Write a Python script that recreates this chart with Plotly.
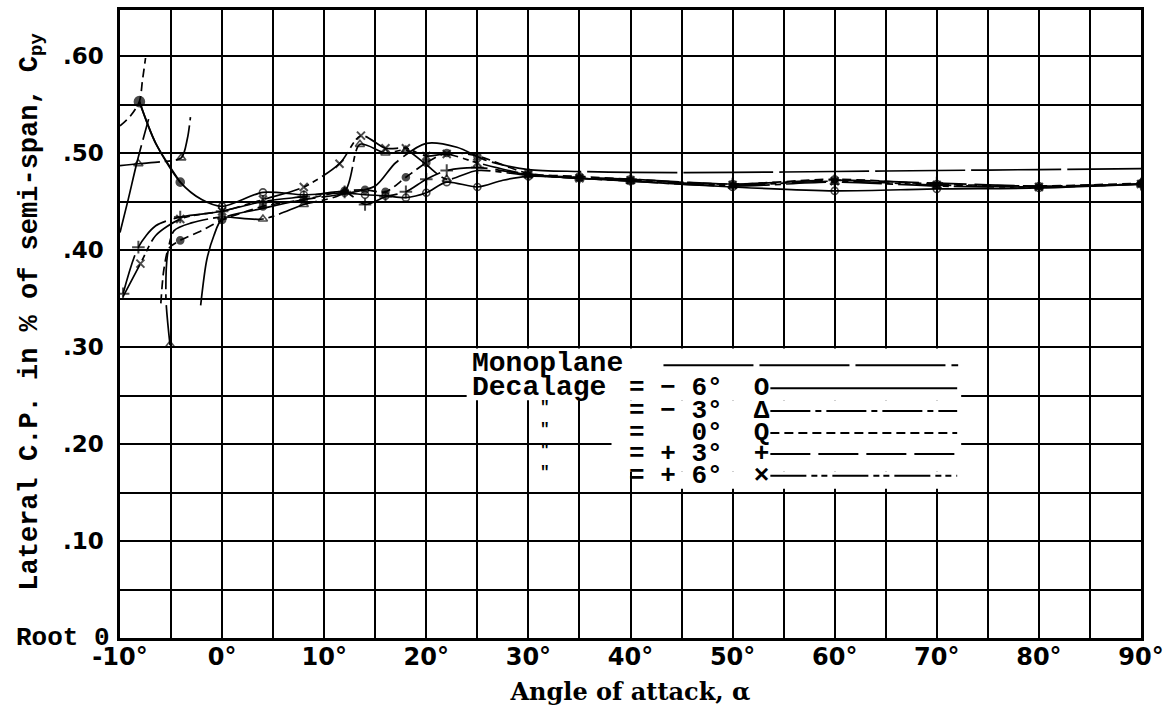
import plotly.graph_objects as go

W, H = 1171, 711
ML, MR, MT, MB = 120, 29, 7, 73

# ---------------- data ----------------
# Monoplane (long dash, no markers), two branches
mono_l_a = [-10, -9.2, -8.3, -7.2]
mono_l_c = [0.418, 0.452, 0.492, 0.535]
mono_r_a = [-2.1, -1.5, -0.8, 0, 4, 8, 12, 15, 17, 20, 23, 26, 30, 35, 40, 50, 60, 70, 80, 90]
mono_r_c = [0.343, 0.39, 0.415, 0.432, 0.443, 0.452, 0.458, 0.466, 0.49, 0.51, 0.506, 0.492,
            0.483, 0.481, 0.480, 0.480, 0.481, 0.482, 0.483, 0.484]

# Decalage -6 deg (open circles, solid)
m6_a = [-8.1, -6.5, -4.1, -2, 0, 4, 8, 12, 14, 16, 18, 20, 22, 25, 27.5, 30, 35, 40, 50, 60, 70, 80, 90]
m6_c = [0.553, 0.51, 0.47, 0.452, 0.445, 0.4595, 0.457, 0.459, 0.457, 0.456, 0.454, 0.459, 0.47,
        0.465, 0.472, 0.476, 0.474, 0.471, 0.465, 0.461, 0.463, 0.464, 0.468]
m6_mk = [0, 4, 8, 12, 14, 16, 18, 20, 22, 25, 30, 35, 40, 50, 60, 70, 80, 90]

# Decalage -3 deg (triangles, dash-dot), two branches
m3_l_a = [-10, -8.2, -6, -4, -3.4, -3.1]
m3_l_c = [0.487, 0.489, 0.491, 0.495, 0.515, 0.537]
m3_l_mk = [-8.2, -4]
m3_r_a = [-5.1, -5.5, -5.35, -4.7, -3, 0, 4, 8, 12, 13.5, 16, 18, 20, 22, 25, 30, 35, 40, 50, 60, 70, 80, 90]
m3_r_c = [0.302, 0.35, 0.395, 0.42, 0.428, 0.434, 0.432, 0.447, 0.46, 0.509, 0.50, 0.503, 0.488,
          0.473, 0.482, 0.477, 0.474, 0.471, 0.466, 0.47, 0.466, 0.465, 0.468]
m3_r_mk = [-5.1, 0, 4, 8, 12, 13.5, 16, 18, 22, 30, 35, 40, 50, 60, 70, 80, 90]

# Decalage 0 deg (filled dots, short dash), two branches
z0_l_a = [-10, -9, -8.1, -7.8, -7.5]
z0_l_c = [0.528, 0.538, 0.553, 0.575, 0.598]
z0_l_mk = [-8.1]
z0_r_a = [-6.0, -5.7, -5.2, -4.1, -2, 0, 4, 8, 12, 14, 16, 18, 20, 22, 25, 30, 35, 40, 50, 60, 70, 80, 90]
z0_r_c = [0.345, 0.38, 0.402, 0.41, 0.42, 0.431, 0.445, 0.452, 0.461, 0.462, 0.46, 0.475, 0.49,
          0.50, 0.497, 0.479, 0.476, 0.473, 0.468, 0.473, 0.468, 0.466, 0.469]
z0_r_mk = [-4.1, 0, 4, 8, 12, 14, 16, 18, 20, 22, 25, 30, 35, 40, 50, 60, 70, 80, 90]
# extra 0-deg test point on the descending faired curve
z0_d_a = [-8.1, -6.5, -4.1]
z0_d_c = [0.553, 0.51, 0.47]
z0_d_mk = [-4.1]

# Decalage +3 deg (plus, long dash)
p3_a = [-9.7, -8.2, -6.5, -4.1, -2, 0, 4, 8, 12, 14, 16, 18, 20, 22, 25, 30, 35, 40, 50, 60, 70, 80, 90]
p3_c = [0.355, 0.403, 0.425, 0.434, 0.437, 0.44, 0.45, 0.455, 0.46, 0.447, 0.455, 0.46, 0.473,
        0.482, 0.485, 0.478, 0.475, 0.473, 0.468, 0.472, 0.469, 0.466, 0.468]
p3_mk = [-9.7, -8.2, -4.1, 0, 4, 8, 12, 14, 16, 18, 20, 22, 25, 30, 35, 40, 50, 60, 70, 80, 90]

# Decalage +6 deg (cross, long-short dash)
p6_a = [-9.7, -8.0, -6.5, -4.1, -2, 0, 4, 8, 11.5, 13.6, 16, 18, 20, 22, 25, 30, 35, 40, 50, 60, 70, 80, 90]
p6_c = [0.352, 0.386, 0.415, 0.432, 0.437, 0.44, 0.452, 0.465, 0.489, 0.518, 0.505, 0.505, 0.497,
        0.499, 0.49, 0.478, 0.474, 0.472, 0.467, 0.471, 0.467, 0.465, 0.468]
p6_mk = [-8.0, -4.1, 0, 4, 8, 11.5, 13.6, 16, 18, 20, 22, 25, 30, 35, 40, 50, 60, 70, 80, 90]

x_ticks = [-10, 0, 10, 20, 30, 40, 50, 60, 70, 80, 90]
x_ticktext = ["-10°", "0°", "10°", "20°", "30°", "40°", "50°", "60°", "70°", "80°", "90°"]
y_ticks = [0.1, 0.2, 0.3, 0.4, 0.5, 0.6]
y_ticktext = [".10", ".20", ".30", ".40", ".50", ".60"]

legend_labels = ["= − 6°", "= − 3°", "=   0°", "= + 3°", "= + 6°"]
legend_symbols = ["O", "Δ", "Q", "+", "×"]

# ---------------- styles ----------------
DASH_MONO = "90px,6px"
DASH_M3 = "40px,5px,6px,5px"
DASH_Z0 = "9px,5px"
DASH_P3 = "40px,8px"
DASH_P6 = "36px,5px,6px,4px,6px,5px"

fig = go.Figure()


def add_curve(a, c, marked, dash, symbol, size=8, lw=1.7, mlw=1.6):
    sizes = [size if v in marked else 0 for v in a]
    mlws = [mlw if v in marked else 0 for v in a]
    fig.add_trace(go.Scatter(
        x=a, y=c, mode="lines+markers", showlegend=False, hoverinfo="skip",
        line=dict(color="black", width=lw, dash=dash, shape="spline", smoothing=0.8),
        marker=dict(symbol=symbol, size=sizes, color="black",
                    line=dict(color="black", width=mlws)),
    ))


add_curve(mono_l_a, mono_l_c, [], DASH_MONO, "circle")
add_curve(mono_r_a, mono_r_c, [], DASH_MONO, "circle")
add_curve(m6_a, m6_c, m6_mk, "solid", "circle-open", size=7)
add_curve(m3_l_a, m3_l_c, m3_l_mk, DASH_M3, "triangle-up-open")
add_curve(m3_r_a, m3_r_c, m3_r_mk, DASH_M3, "triangle-up-open")
add_curve(z0_l_a, z0_l_c, z0_l_mk, DASH_Z0, "circle", size=10)
add_curve(z0_d_a, z0_d_c, z0_d_mk, "solid", "circle", size=8)
add_curve(z0_r_a, z0_r_c, z0_r_mk, DASH_Z0, "circle", size=7)
add_curve(p3_a, p3_c, p3_mk, DASH_P3, "cross-thin", size=9, mlw=2)
add_curve(p6_a, p6_c, p6_mk, DASH_P6, "x-thin", size=8, mlw=2)

PW = W - ML - MR
PH = H - MT - MB


def px(xp):
    return (xp - ML) / PW


def py(yp):
    return (H - MB - yp) / PH


MONO = "Liberation Mono"
shapes = []
annos = []

# white legend area
for (x0, y0, x1, y1) in [(467, 347, 962, 399), (612, 399, 962, 471), (634, 471, 962, 488)]:
    shapes.append(dict(type="rect", xref="paper", yref="paper", x0=px(x0), x1=px(x1),
                       y0=py(y1), y1=py(y0), fillcolor="white", line=dict(width=0), layer="above"))

# legend texts
for txt, yy in [("Monoplane", 362), ("Decalage", 386)]:
    annos.append(dict(text=txt, x=px(470), y=py(yy), xref="paper", yref="paper",
                      xanchor="left", yanchor="middle", showarrow=False,
                      font=dict(family=MONO, size=28, color="black", weight="bold")))
shapes.append(dict(type="line", xref="paper", yref="paper", x0=px(664), x1=px(959),
                   y0=py(364), y1=py(364), line=dict(color="black", width=2, dash=DASH_MONO),
                   layer="above"))

row_y = [387, 410, 432, 453, 475]
row_dash = ["solid", DASH_M3, DASH_Z0, DASH_P3, DASH_P6]
for i, (lab, sym, yy, dsh) in enumerate(zip(legend_labels, legend_symbols, row_y, row_dash)):
    annos.append(dict(text=lab + "  " + sym, x=px(627), y=py(yy), xref="paper", yref="paper",
                      xanchor="left", yanchor="middle", showarrow=False,
                      font=dict(family=MONO, size=26, color="black", weight="bold")))
    shapes.append(dict(type="line", xref="paper", yref="paper", x0=px(771), x1=px(958),
                       y0=py(yy), y1=py(yy), line=dict(color="black", width=2, dash=dsh),
                       layer="above"))
    if i > 0:
        annos.append(dict(text='"', x=px(545), y=py(yy - 3), xref="paper", yref="paper",
                          xanchor="center", yanchor="middle", showarrow=False,
                          font=dict(family=MONO, size=16, color="black", weight="bold")))

# axis label annotations
annos.append(dict(text="Root 0", x=px(112), y=0, xref="paper", yref="paper",
                  xanchor="right", yanchor="middle", showarrow=False,
                  font=dict(family=MONO, size=26, color="black", weight="bold")))
annos.append(dict(text="Lateral C.P. in % of semi-span, C<sub>py</sub>", x=px(31), y=py(311),
                  xref="paper", yref="paper", xanchor="center", yanchor="middle",
                  textangle=-90, showarrow=False,
                  font=dict(family=MONO, size=27, color="black", weight="bold")))

fig.update_layout(
    width=W, height=H,
    margin=dict(l=ML, r=MR, t=MT, b=MB, pad=0),
    paper_bgcolor="white", plot_bgcolor="white",
    shapes=shapes, annotations=annos,
    showlegend=False,
)

fig.update_xaxes(
    range=[-10, 90], tickvals=x_ticks, ticktext=x_ticktext,
    showgrid=True, gridcolor="black", gridwidth=2, zeroline=False,
    showline=True, linecolor="black", linewidth=2.5, mirror=True, ticks="",
    tickfont=dict(family="DejaVu Sans", size=24, color="black", weight="bold"),
    ticklabelstandoff=-5,
    minor=dict(dtick=5, tick0=-10, showgrid=True, gridcolor="black", gridwidth=2),
    title=dict(text="Angle of attack, α", standoff=14,
               font=dict(family="DejaVu Serif", size=24, color="black", weight="bold")),
)
fig.update_yaxes(
    range=[0, 0.6475], tickvals=y_ticks, ticktext=y_ticktext,
    showgrid=True, gridcolor="black", gridwidth=2, zeroline=False,
    showline=True, linecolor="black", linewidth=2.5, mirror=True, ticks="",
    tickfont=dict(family="DejaVu Sans", size=23, color="black", weight="bold"),
    ticklabelstandoff=9,
    minor=dict(dtick=0.05, tick0=0, showgrid=True, gridcolor="black", gridwidth=2),
)

fig.write_html("out.html", config={"displayModeBar": False},
               post_script="document.body.style.margin='0';document.body.style.overflow='hidden';")
